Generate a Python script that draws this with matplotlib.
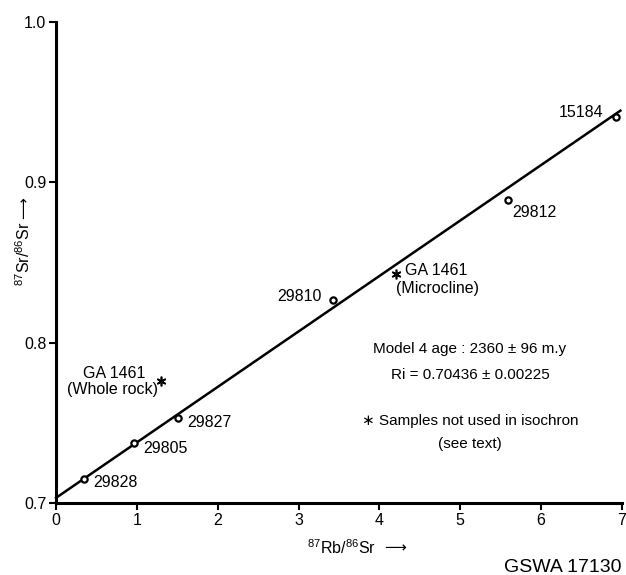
import matplotlib
matplotlib.use("Agg")
import matplotlib.pyplot as plt

plt.rcParams['font.family'] = ['Liberation Sans', 'DejaVu Sans']
plt.rcParams['mathtext.fontset'] = 'custom'
plt.rcParams['mathtext.rm'] = 'Liberation Sans'
plt.rcParams['mathtext.it'] = 'Liberation Sans:italic'

''' data read from the figure '''
samples = ['29828', '29805', '29827', '29810', '29812', '15184']
rb_sr = [0.35, 0.97, 1.51, 3.43, 5.59, 6.93]
sr_sr = [0.715, 0.7374, 0.753, 0.8265, 0.889, 0.9405]

# samples not used in isochron
excl_names = ['Whole rock', 'Microcline']
excl_rb = [1.30, 4.20]
excl_sr = [0.776, 0.843]

iso_intercept = 0.7032
iso_slope = 0.0346
iso_x = [0, 6.98]

xticks = [0, 1, 2, 3, 4, 5, 6, 7]
yticks = [0.7, 0.8, 0.9, 1.0]

fig = plt.figure(figsize=(6.26, 5.75), dpi=100)
ax = fig.add_axes([56/626, 72/575, 566/626, 481/575])

iso_y = [iso_intercept + iso_slope*x for x in iso_x]
ax.plot(iso_x, iso_y, color='black', lw=1.8, clip_on=False)
ax.plot(rb_sr, sr_sr, 'o', ms=4.5, mfc='white', mec='black', mew=1.6, clip_on=False)
ax.plot(excl_rb, excl_sr, marker=(6, 2, 0), ls='none', ms=7, mec='black', mew=1.2)

''' point labels '''
offsets = {'29828': (9, -4, 'left'), '29805': (9, -5, 'left'), '29827': (9, -4, 'left'),
           '29810': (-12, 4, 'right'), '29812': (4, -13, 'left'), '15184': (-13, 5, 'right')}
for name, x, y in zip(samples, rb_sr, sr_sr):
    dx, dy, ha = offsets[name]
    ax.annotate(name, (x, y), xytext=(dx, dy), textcoords='offset pixels',
                ha=ha, va='center', fontsize=11.5)

# GA 1461 whole rock
ax.annotate('GA 1461', (excl_rb[0], excl_sr[0]), xytext=(-47, 8), textcoords='offset pixels',
            ha='center', va='center', fontsize=11.5)
ax.annotate('(' + excl_names[0] + ')', (excl_rb[0], excl_sr[0]), xytext=(-49, -8),
            textcoords='offset pixels', ha='center', va='center', fontsize=11.5)
# GA 1461 microcline
ax.annotate('GA 1461', (excl_rb[1], excl_sr[1]), xytext=(9, 3), textcoords='offset pixels',
            ha='left', va='center', fontsize=11.5)
ax.annotate('(' + excl_names[1] + ')', (excl_rb[1], excl_sr[1]), xytext=(0, -15),
            textcoords='offset pixels', ha='left', va='center', fontsize=11.5)

''' notes '''
ax.text(5.12, 0.796, 'Model 4 age : 2360 \u00b1 96 m.y', ha='center', va='center', fontsize=11)
ax.text(5.12, 0.7798, 'Ri = 0.70436 \u00b1 0.00225', ha='center', va='center', fontsize=11)
ax.text(5.12, 0.751, '\u2217 Samples not used in isochron', ha='center', va='center', fontsize=11)
ax.text(5.12, 0.7368, '(see text)', ha='center', va='center', fontsize=11)

''' axes '''
ax.set_xlim(0, 7)
ax.set_ylim(0.7, 1.0)
ax.set_xticks(xticks)
ax.set_yticks(yticks)
ax.set_yticklabels(['0.7', '0.8', '0.9', '1.0'])
ax.tick_params(direction='out', length=5, width=1.5, labelsize=11.5, pad=2)
for s in ['top', 'right']:
    ax.spines[s].set_visible(False)
for s in ['left', 'bottom']:
    ax.spines[s].set_linewidth(2.2)

# axis labels, arrows drawn as separate DejaVu text
fig.text(376/626, 1 - 548/575, r'$^{87}$Rb/$^{86}$Sr', ha='right', va='center', fontsize=11.5)
fig.text(384/626, 1 - 548/575, '\u27f6', ha='left', va='center', fontsize=11,
         family='DejaVu Sans')
fig.text(24/626, 1 - 286/575, r'$^{87}$Sr/$^{86}$Sr', ha='center', va='bottom', fontsize=11.5,
         rotation=90)
fig.text(24/626, 1 - 219/575, '\u27f6', ha='center', va='bottom', fontsize=11,
         family='DejaVu Sans', rotation=90)
fig.text(622/626, 1 - 567/575, 'GSWA 17130', ha='right', va='center', fontsize=14)

fig.savefig('out.png', dpi=100)
